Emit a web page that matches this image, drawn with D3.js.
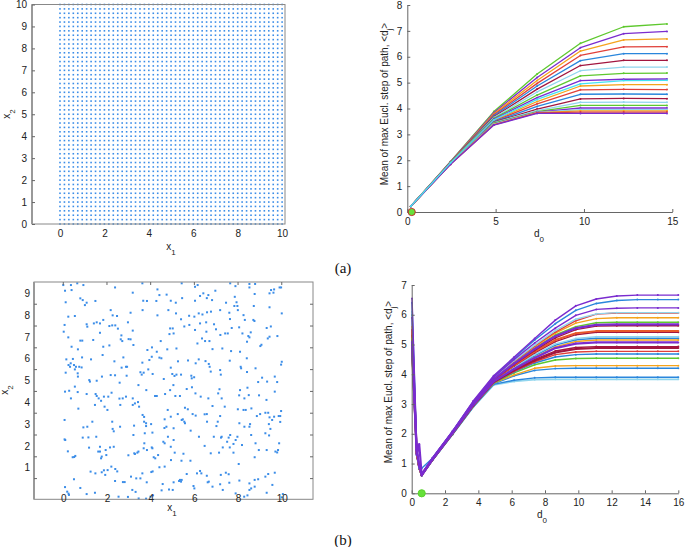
<!DOCTYPE html>
<html>
<head>
<meta charset="utf-8">
<script src="https://cdn.jsdelivr.net/npm/d3@7"></script>
<style>
body { margin: 0; background: #fff; }
</style>
</head>
<body>
<svg id="fig" width="685" height="547"></svg>
<script>
// ---------- data ----------

// (a) regular lattice of points, same coordinates on x1 and x2
let gridVals = [0,0.2,0.4,0.6,0.8,1,1.2,1.4,1.6,1.8,2,2.2,2.4,2.6,2.8,3,3.2,3.4,3.6,3.8,4,4.2,4.4,4.6,4.8,5,
  5.2,5.4,5.6,5.8,6,6.2,6.4,6.6,6.8,7,7.2,7.4,7.6,7.8,8,8.2,8.4,8.6,8.8,9,9.2,9.4,9.6,9.8,10];
let gridTicksX = [0, 2, 4, 6, 8, 10];
let gridTicksY = [0, 1, 2, 3, 4, 5, 6, 7, 8, 9, 10];

// (a) mean max step vs d0
let d0a = [0.2, 2.45, 4.9, 7.35, 9.8, 12.25, 14.7];
let seriesA = [
  [0.22, 1.95, 3.88, 5.33, 6.52, 7.16, 7.27],
  [0.22, 1.94, 3.84, 5.20, 6.35, 6.89, 6.98],
  [0.22, 1.93, 3.80, 5.08, 6.22, 6.65, 6.69],
  [0.22, 1.93, 3.76, 4.97, 6.05, 6.38, 6.39],
  [0.22, 1.92, 3.72, 4.87, 5.85, 6.12, 6.12],
  [0.22, 1.92, 3.68, 4.75, 5.66, 5.86, 5.86],
  [0.22, 1.91, 3.65, 4.64, 5.46, 5.60, 5.60],
  [0.22, 1.91, 3.62, 4.52, 5.26, 5.36, 5.37],
  [0.22, 1.90, 3.59, 4.42, 5.08, 5.13, 5.14],
  [0.22, 1.89, 3.54, 4.27, 4.87, 4.92, 4.92],
  [0.22, 1.89, 3.51, 4.18, 4.72, 4.74, 4.73],
  [0.22, 1.88, 3.49, 4.08, 4.55, 4.56, 4.55],
  [0.22, 1.88, 3.47, 3.98, 4.37, 4.39, 4.38],
  [0.22, 1.87, 3.45, 3.92, 4.24, 4.25, 4.24],
  [0.22, 1.87, 3.43, 3.88, 4.12, 4.12, 4.12],
  [0.22, 1.86, 3.41, 3.86, 4.02, 4.02, 4.02],
  [0.22, 1.86, 3.40, 3.85, 3.96, 3.96, 3.96],
  [0.22, 1.85, 3.38, 3.84, 3.91, 3.91, 3.91],
  [0.22, 1.85, 3.37, 3.83, 3.86, 3.86, 3.86],
  [0.22, 1.84, 3.36, 3.81, 3.81, 3.81, 3.81],
  [0.22, 1.90, 3.56, 4.35, 4.95, 5.08, 5.09]
];
let ticksAx = [0, 5, 10, 15];
let ticksAy = [0, 1, 2, 3, 4, 5, 6, 7, 8];
let optimumA = 0.25;

// (b) random points [x1, x2]
let randomPts = [
  [0,9.38],[0.64,9.46],[0.92,9.38],[0.35,9.38],[3.62,9.46],[5.42,9.46],[6.15,9.38],[7.64,9.46],[7.88,9.33],[8.52,9.43],
  [8.78,9.43],[0.08,9.12],[0.38,9.15],[2.37,9.27],[4.31,9.18],[6.03,9.30],[8.52,9.27],[9.44,9.00],[9.90,9.27],
  [0.11,8.59],[0.78,8.77],[1.07,8.57],[0.99,8.46],[1.47,8.65],[3.18,9.03],[3.66,8.66],[3.83,8.65],[4.26,8.65],[4.40,8.92],
  [4.73,8.94],[4.92,8.66],[5.15,8.57],[5.44,8.78],[6.03,8.66],[6.26,8.88],[6.41,9.00],[6.57,8.78],[6.64,8.92],[6.81,8.69],
  [6.96,9.12],[7.45,8.57],[7.85,8.84],[7.93,8.59],[7.83,8.42],[7.97,8.42],[8.76,8.97],[9.51,9.15],[9.65,9.18],[9.62,9.03],[9.97,9.27],
  [0.23,7.93],[0.53,7.96],[0.89,8.69],[2.17,8.23],[2.26,7.99],[2.46,7.96],[3.08,8.11],[3.63,8.23],[4.31,7.99],[4.81,8.23],
  [5.16,8.08],[5.39,7.81],[5.76,7.97],[6.00,7.93],[6.20,8.08],[6.37,8.03],[6.54,7.67],[6.58,8.13],[6.76,8.16],[7.18,8.23],
  [7.60,8.11],[7.63,7.82],[7.99,8.23],[8.25,8.00],[8.31,7.78],[8.72,8.42],[8.70,7.78],[9.44,8.36],[10.00,8.08],[8.75,7.73],
  [0.06,7.55],[0.02,7.24],[1.10,7.47],[1.07,7.58],[1.40,7.62],[1.53,7.67],[1.68,7.62],[1.83,7.78],[1.68,7.19],[2.24,7.53],
  [2.11,7.50],[2.38,7.53],[2.50,7.38],[2.96,7.67],[3.18,7.29],[4.89,7.39],[5.01,7.39],[5.05,7.16],[4.86,7.13],[5.54,7.48],
  [5.77,7.55],[6.03,7.32],[6.26,7.62],[6.55,7.24],[6.90,7.58],[6.99,7.35],[7.19,7.09],[7.41,7.16],[7.53,7.16],[7.71,7.41],
  [8.05,7.44],[8.20,7.16],[8.47,7.04],[8.58,7.21],[9.31,7.41],[9.50,7.48],[9.80,7.04],[9.44,7.01],
  [0.23,6.98],[0.38,6.55],[0.78,6.83],[0.87,6.83],[0.67,6.43],[1.37,6.86],[1.83,6.55],[2.11,6.61],[2.66,7.07],[2.63,6.89],
  [2.70,6.81],[2.99,6.90],[3.08,6.89],[3.21,6.63],[3.85,6.40],[4.06,6.52],[4.28,6.32],[4.46,6.81],[4.76,6.43],[5.18,6.47],
  [6.14,6.70],[6.35,6.93],[6.49,6.81],[6.69,6.81],[6.83,6.44],[7.28,6.47],[7.68,6.35],[8.09,6.32],[8.41,6.78],[8.52,6.98],
  [9.07,6.64],[9.02,6.58],[9.36,6.93],
  [0.14,5.97],[0.24,5.71],[0.34,5.79],[0.44,5.99],[0.49,5.71],[0.58,5.63],[0.73,5.63],[0.86,6.06],[1.27,5.97],[1.80,6.17],
  [2.34,5.88],[2.67,5.59],[2.75,6.06],[2.92,5.63],[3.62,5.82],[3.94,5.94],[4.05,6.09],[4.40,6.05],[4.49,6.02],[4.92,5.59],
  [5.25,5.88],[5.71,5.92],[6.06,5.79],[6.20,5.97],[6.51,5.89],[6.66,5.76],[6.70,5.63],[7.62,5.91],[8.12,5.63],[8.40,6.02],
  [8.80,5.56],[10.00,5.86],[9.97,5.73],
  [0.11,5.36],[0.31,5.63],[0.53,5.51],[0.66,5.33],[0.67,5.18],[0.84,5.60],[1.19,5.02],[1.22,4.95],[1.53,4.99],[1.77,5.18],
  [2.17,5.25],[2.37,5.24],[2.58,4.90],[2.87,5.63],[2.90,5.22],[3.53,5.38],[3.59,5.27],[3.68,5.36],[3.89,5.51],[4.09,5.30],
  [4.60,5.07],[4.99,5.30],[5.09,5.21],[5.18,5.27],[5.39,5.27],[5.86,5.22],[5.88,5.10],[5.99,5.15],[6.75,5.41],[7.18,5.48],
  [7.21,5.27],[8.14,5.56],[8.41,5.39],[8.92,4.93],[9.10,5.13],[9.33,4.95],[9.68,5.18],[9.79,4.93],
  [0.08,4.49],[0.27,4.53],[0.35,4.18],[0.53,4.72],[0.66,4.47],[1.07,4.38],[1.48,4.38],[1.53,4.29],[1.62,4.18],[1.86,4.26],
  [2.06,4.26],[2.21,4.44],[2.57,4.17],[2.72,4.18],[2.87,4.26],[3.18,4.18],[3.28,3.95],[3.44,4.79],[3.80,4.56],[4.20,4.29],
  [4.28,4.29],[4.66,4.38],[4.89,4.56],[5.04,4.79],[5.13,4.29],[5.34,4.29],[5.65,4.61],[5.89,4.69],[6.05,4.41],[6.29,4.26],
  [6.64,4.18],[7.09,4.41],[7.15,4.60],[7.25,4.18],[8.05,4.32],[8.09,4.56],[8.29,4.18],[8.43,4.67],[8.49,4.33],[8.96,4.32],
  [9.30,4.11],[9.68,4.49],
  [0.69,3.71],[1.45,3.88],[1.73,4.07],[1.89,3.80],[2.02,3.65],[2.61,3.88],[3.18,3.88],[3.42,4.01],[3.47,3.80],[3.63,3.42],
  [3.70,3.33],[4.64,3.22],[4.78,3.65],[4.92,3.34],[5.24,3.46],[5.57,3.75],[5.70,3.68],[5.47,3.22],[5.92,3.46],[6.06,3.39],
  [6.47,3.45],[6.57,3.46],[6.83,3.83],[7.39,3.80],[7.99,3.68],[8.25,3.65],[8.35,3.65],[8.61,3.72],[8.86,3.37],[9.01,3.46],
  [9.25,3.52],[9.38,3.52],[9.44,3.31],[9.65,3.34],[9.93,3.37],[9.97,3.60],
  [0.06,3.19],[0.92,2.85],[1.10,2.88],[1.33,3.11],[2.24,3.11],[2.26,2.78],[2.31,2.67],[2.60,2.88],[3.24,2.93],[3.70,3.11],
  [3.79,3.04],[4.02,3.00],[3.79,2.91],[4.08,2.61],[4.63,2.82],[4.72,2.88],[5.05,2.81],[5.54,3.11],[5.42,3.19],[5.57,3.04],
  [5.83,2.70],[6.58,3.11],[7.01,2.91],[7.07,3.11],[7.18,3.37],[8.06,3.04],[8.29,2.88],[8.55,3.00],[8.52,2.88],[9.41,3.00],
  [9.48,2.78],[9.56,3.19],[9.86,3.37],[9.93,3.10],
  [0.06,2.30],[0.09,2.27],[0.89,2.38],[1.15,2.39],[1.51,2.42],[1.68,1.96],[2.14,1.93],[1.94,1.81],[2.31,1.96],[3.21,2.50],
  [3.44,1.74],[3.39,1.69],[3.68,1.89],[3.73,2.58],[4.58,2.19],[4.64,2.12],[4.79,2.42],[4.92,1.96],[5.05,2.27],[6.21,2.42],
  [6.89,2.42],[7.25,2.42],[7.50,2.19],[7.57,2.38],[7.64,2.50],[7.89,2.27],[7.97,2.42],[8.18,2.04],[8.60,2.50],[8.80,2.12],
  [9.25,2.58],[9.42,2.48],[9.71,1.74],[9.88,2.12],[9.83,1.81],
  [0.21,1.75],[0.50,1.49],[0.43,1.48],[0.55,1.54],[1.18,1.92],[1.60,1.74],[1.68,1.74],[1.73,1.43],[1.76,1.51],[1.97,1.58],
  [2.98,1.57],[3.25,1.66],[3.28,1.63],[4.14,1.48],[4.21,1.43],[4.34,1.58],[4.93,1.35],[5.10,1.69],[5.41,1.32],[5.50,1.64],
  [5.82,1.32],[6.47,2.00],[6.75,1.66],[7.13,1.69],[7.22,2.38],[7.30,1.93],[7.62,1.93],[7.79,2.09],[7.79,1.69],[8.03,1.17],
  [8.76,1.48],[8.95,1.81],[9.79,1.70],[9.31,1.81],[3.83,1.81],[4.05,1.93],[4.08,1.89],[3.71,2.12],
  [1.25,0.82],[1.47,0.74],[1.76,0.79],[1.86,0.88],[1.92,0.67],[2.03,0.89],[2.20,1.05],[2.38,0.94],[2.37,0.39],[2.47,0.83],
  [2.73,0.34],[3.10,0.59],[3.34,0.51],[3.53,0.51],[3.62,0.74],[3.82,0.33],[4.03,0.80],[4.09,0.83],[4.40,1.02],[4.64,1.05],
  [5.05,0.33],[5.30,0.39],[5.34,0.44],[5.39,0.36],[5.65,0.71],[6.12,0.74],[6.26,0.85],[6.32,0.74],[6.57,0.63],[6.66,0.36],
  [7.18,0.24],[7.21,0.67],[7.44,0.77],[7.57,0.70],[7.60,0.31],[8.06,0.41],[8.52,0.28],[8.76,0.44],[8.92,0.47],[9.25,0.59],
  [9.38,0.71],[9.68,0.77],
  [0.08,0.11],[0.18,-0.10],[0.26,-0.25],[0.24,-0.19],[0.49,0.47],[0.78,0.07],[1.07,-0.21],[1.45,-0.15],[2.53,-0.33],[2.81,0.34],
  [2.96,-0.34],[3.16,-0.02],[3.31,-0.11],[3.45,-0.41],[3.79,-0.42],[3.99,-0.33],[4.11,-0.27],[4.50,-0.04],[4.55,0.25],[4.84,0.00],
  [5.01,-0.02],[5.42,0.44],[5.96,0.16],[6.00,0.05],[6.61,0.33],[6.83,0.13],[7.30,-0.02],[7.89,-0.18],[8.28,-0.33],[8.43,-0.27],
  [8.52,-0.02],[8.60,0.05],[8.76,0.13],[9.31,-0.15],[9.57,0.21],[10.00,-0.36],[10.05,-0.21]
];
let randTicksX = [0, 2, 4, 6, 8, 10];
let randLabelsY = [1, 2, 3, 4, 5, 6, 7, 8, 9];
let randTickMarksY = [0.5, 1.5, 2.5, 3.5, 4.5, 5.5, 6.5, 7.5, 8.5];

// (b) mean max step vs d0
let d0b = [0.02, 0.3, 0.45, 0.6, 1.23, 2.46, 3.69, 4.92, 6.15, 7.38, 8.62, 9.85, 11.08, 12.31, 13.54, 14.77, 16];
let seriesB = [
  [5.50, 1.28, 0.83, 0.60, 1.09, 1.98, 2.89, 3.64, 3.76, 3.82, 3.83, 3.83, 3.83, 3.83, 3.83, 3.83, 3.83],
  [4.90, 1.28, 0.83, 0.60, 1.10, 1.98, 2.90, 3.66, 3.80, 3.88, 3.90, 3.90, 3.90, 3.90, 3.90, 3.90, 3.90],
  [4.60, 1.30, 0.83, 0.60, 1.10, 1.99, 2.91, 3.68, 3.95, 4.13, 4.19, 4.20, 4.20, 4.20, 4.20, 4.20, 4.20],
  [4.50, 1.30, 0.84, 0.60, 1.10, 2.00, 2.92, 3.70, 3.98, 4.20, 4.28, 4.29, 4.29, 4.29, 4.29, 4.29, 4.29],
  [4.70, 1.32, 0.84, 0.60, 1.11, 2.00, 2.93, 3.71, 4.05, 4.32, 4.48, 4.53, 4.54, 4.54, 4.54, 4.54, 4.54],
  [4.90, 1.33, 0.84, 0.60, 1.11, 2.01, 2.94, 3.72, 4.08, 4.38, 4.58, 4.66, 4.68, 4.68, 4.68, 4.68, 4.68],
  [5.30, 1.34, 0.85, 0.61, 1.11, 2.01, 2.94, 3.73, 4.10, 4.42, 4.66, 4.75, 4.77, 4.77, 4.77, 4.77, 4.77],
  [5.00, 1.35, 0.85, 0.61, 1.12, 2.02, 2.95, 3.74, 4.13, 4.46, 4.73, 4.85, 4.88, 4.88, 4.88, 4.88, 4.88],
  [5.20, 1.35, 0.85, 0.61, 1.12, 2.02, 2.96, 3.75, 4.15, 4.50, 4.78, 4.90, 4.93, 4.93, 4.93, 4.93, 4.93],
  [4.80, 1.36, 0.86, 0.61, 1.13, 2.03, 2.97, 3.77, 4.20, 4.58, 4.92, 5.10, 5.15, 5.15, 5.15, 5.15, 5.15],
  [6.00, 1.38, 0.86, 0.62, 1.13, 2.04, 2.98, 3.78, 4.23, 4.63, 4.98, 5.16, 5.21, 5.21, 5.21, 5.21, 5.21],
  [5.70, 1.38, 0.86, 0.62, 1.13, 2.04, 2.99, 3.79, 4.25, 4.66, 5.02, 5.20, 5.26, 5.26, 5.26, 5.26, 5.26],
  [5.40, 1.38, 0.87, 0.62, 1.14, 2.05, 3.00, 3.80, 4.28, 4.72, 5.10, 5.33, 5.41, 5.41, 5.41, 5.41, 5.41],
  [5.45, 1.40, 0.87, 0.62, 1.14, 2.05, 3.00, 3.81, 4.30, 4.76, 5.15, 5.38, 5.45, 5.45, 5.45, 5.45, 5.45],
  [5.30, 1.40, 0.88, 0.62, 1.14, 2.06, 3.01, 3.82, 4.33, 4.80, 5.22, 5.50, 5.62, 5.63, 5.63, 5.63, 5.63],
  [5.20, 1.40, 0.88, 0.63, 1.15, 2.07, 3.03, 3.85, 4.40, 4.88, 5.32, 5.60, 5.73, 5.75, 5.75, 5.75, 5.75],
  [5.60, 1.40, 0.88, 0.63, 1.15, 2.07, 3.04, 3.86, 4.42, 4.92, 5.38, 5.72, 5.87, 5.90, 5.90, 5.90, 5.90],
  [5.50, 1.40, 0.88, 0.64, 1.15, 2.07, 3.04, 3.87, 4.44, 4.95, 5.42, 5.80, 6.02, 6.06, 6.06, 6.06, 6.06],
  [6.10, 1.50, 0.90, 0.64, 1.16, 2.08, 3.05, 3.88, 4.46, 4.98, 5.47, 5.85, 6.03, 6.07, 6.07, 6.07, 6.07],
  [6.40, 1.50, 0.85, 0.84, 1.17, 2.09, 3.08, 3.93, 4.55, 5.15, 5.70, 6.15, 6.38, 6.48, 6.51, 6.51, 6.51],
  [5.10, 1.30, 1.65, 0.60, 1.12, 2.03, 2.97, 3.76, 4.18, 4.55, 4.88, 5.03, 5.07, 5.07, 5.07, 5.07, 5.07],
  [5.00, 1.45, 0.90, 0.63, 1.15, 2.06, 3.02, 3.84, 4.36, 4.85, 5.28, 5.55, 5.66, 5.68, 5.68, 5.68, 5.68],
  [5.90, 1.45, 0.92, 0.65, 1.16, 2.08, 3.06, 3.90, 4.50, 5.05, 5.55, 5.98, 6.18, 6.22, 6.23, 6.23, 6.23],
  [6.55, 1.62, 0.95, 0.66, 1.18, 2.10, 3.10, 3.95, 4.58, 5.20, 5.82, 6.30, 6.53, 6.63, 6.66, 6.66, 6.66]
];
let ticksBx = [0, 2, 4, 6, 8, 10, 12, 14, 16];
let ticksBy = [0, 1, 2, 3, 4, 5, 6, 7];
let optimumB = 0.6;

// ---------- look ----------
const green = "#5ec82e", purple = "#7a2ccf", orange = "#f5a31c", red = "#e0403a",
      blue = "#2a86dc", maroon = "#a2163f", lightblue = "#90d5ee", cyan = "#45e3f2";
const colorsA = [green, purple, orange, red, blue, maroon, lightblue, green, purple, orange, red,
  blue, maroon, lightblue, green, purple, lightblue, orange, red, purple, cyan];
const colorsB = [lightblue, blue, blue, orange, green, blue, red, maroon, maroon, orange, blue,
  lightblue, maroon, "#e8582a", maroon, green, orange, red, lightblue, blue, purple, purple, purple, purple];
const widthsB = [1.6, 1.4, 1.4, 1.4, 1.4, 1.4, 1.4, 2, 1.4, 1.4, 1.4, 1.4, 1.4, 2, 1.4, 1.4, 1.4, 1.4, 1.4, 1.4, 2.2, 2.2, 1.4, 1.4];
const dotBlue = "#3b8de8";
const axisColor = "#666";
const sans = "'Liberation Sans', Arial, sans-serif";
const intFmt = d3.format("d");

let svg = d3.select("#fig");

const styleAxis = (g, size) => {
  g.attr("font-family", sans).attr("font-size", size);
  g.selectAll(".tick line").attr("stroke", axisColor);
  g.selectAll(".tick text").attr("fill", "#222");
  g.select(".domain").attr("stroke", axisColor);
};

// text with a subscript, optionally rotated
const subLabel = (x, y, main, sub, rotate, size) => {
  let t = svg.append("text")
    .attr("x", x).attr("y", y)
    .attr("text-anchor", "middle")
    .attr("font-family", sans)
    .attr("font-size", size)
    .attr("fill", "#222");
  if (rotate) t.attr("transform", `rotate(-90,${x},${y})`);
  t.append("tspan").text(main);
  t.append("tspan").attr("dy", size * 0.45).attr("font-size", size * 0.8).text(sub);
  return t;
};

const drawGrid = () => {
  let x = d3.scaleLinear().domain([-1.26, 10.13]).range([32, 285]);
  let y = d3.scaleLinear().domain([0, 10]).range([224, 4.5]);
  let g = svg.append("g");

  let cells = [];
  gridVals.forEach(a => gridVals.forEach(b => cells.push([a, b])));
  g.selectAll("rect.pt").data(cells).enter().append("rect")
    .attr("class", "pt")
    .attr("x", d => x(d[0]) - 0.8)
    .attr("y", d => y(d[1]) - 0.8)
    .attr("width", 1.6).attr("height", 1.6)
    .attr("fill", dotBlue);

  g.append("rect")
    .attr("x", x.range()[0]).attr("y", y.range()[1])
    .attr("width", x.range()[1] - x.range()[0])
    .attr("height", y.range()[0] - y.range()[1])
    .attr("fill", "none").attr("stroke", "#888");
  g.append("line")
    .attr("x1", x.range()[0]).attr("x2", x.range()[0])
    .attr("y1", y.range()[0]).attr("y2", y.range()[1])
    .attr("stroke", "#999").attr("stroke-width", 2);

  let ya = g.append("g").attr("transform", `translate(${x.range()[0]},0)`)
    .call(d3.axisLeft(y).tickValues(gridTicksY).tickFormat(intFmt).tickSize(-3).tickPadding(5));
  ya.select(".domain").remove();
  styleAxis(ya, 10);

  let xa = g.append("g").attr("transform", `translate(0,${y(0)})`)
    .call(d3.axisBottom(x).tickValues(gridTicksX).tickFormat(intFmt).tickSize(0).tickPadding(6));
  xa.select(".domain").remove();
  styleAxis(xa, 10);

  subLabel(171, 250, "x", "1", false, 10);
  subLabel(10, 114, "x", "2", true, 10);
};

const drawCurves = (xs, series, colors, widths, xScale, yScale, tx, ty, optimum, outline) => {
  let g = svg.append("g");
  let line = d3.line().x((d, i) => xScale(xs[i])).y(d => yScale(d));

  series.forEach((s, k) => {
    g.append("path")
      .attr("d", line(s))
      .attr("fill", "none")
      .attr("stroke", colors[k])
      .attr("stroke-width", widths ? widths[k] : 1.3)
      .attr("stroke-linejoin", "round");
    g.selectAll(null).data(s).enter().append("circle")
      .attr("cx", (d, i) => xScale(xs[i]))
      .attr("cy", d => yScale(d))
      .attr("r", 1)
      .attr("fill", colors[k]);
  });

  let xa = g.append("g").attr("transform", `translate(0,${yScale(0)})`)
    .call(d3.axisBottom(xScale).tickValues(tx).tickFormat(intFmt).tickSize(-3).tickSizeOuter(0).tickPadding(ty.pad));
  styleAxis(xa, 10);
  let ya = g.append("g").attr("transform", `translate(${xScale(0)},0)`)
    .call(d3.axisLeft(yScale).tickValues(ty.values).tickFormat(intFmt).tickSize(-3).tickSizeOuter(0).tickPadding(5));
  styleAxis(ya, 10);

  g.append("circle")
    .attr("cx", xScale(optimum)).attr("cy", yScale(0))
    .attr("r", 3.6)
    .attr("fill", "#66e03a")
    .attr("stroke", outline)
    .attr("stroke-width", 1);
};

const yLabel = (x, y) => {
  let t = svg.append("text")
    .attr("transform", `translate(${x},${y}) rotate(-90)`)
    .attr("text-anchor", "middle")
    .attr("font-family", sans).attr("font-size", 10).attr("fill", "#222");
  t.append("tspan").text("Mean of max Eucl. step of path, <d");
  t.append("tspan").attr("dy", 4).attr("font-size", 8).text("j");
  t.append("tspan").attr("dy", -4).text(">");
};

const drawCurvesA = () => {
  let x = d3.scaleLinear().domain([0, 15]).range([407.3, 672.3]);
  let y = d3.scaleLinear().domain([0, 8]).range([212, 5]);
  drawCurves(d0a, seriesA, colorsA, null, x, y, ticksAx, { values: ticksAy, pad: 6 }, optimumA, "#c0302a");
  yLabel(388, 104);
  subLabel(539, 237, "d", "0", false, 10);
};

const drawRandom = () => {
  let x = d3.scaleLinear().domain([-1.34, 11.43]).range([34, 313]);
  let y = d3.scaleLinear().domain([-0.45, 9.52]).range([499.3, 282]);
  let g = svg.append("g");

  g.selectAll("rect.pt").data(randomPts).enter().append("rect")
    .attr("class", "pt")
    .attr("x", d => x(d[0]) - 1)
    .attr("y", d => y(d[1]) - 1)
    .attr("width", 2).attr("height", 2)
    .attr("fill", dotBlue);

  g.append("rect")
    .attr("x", 34).attr("y", 282)
    .attr("width", 313 - 34).attr("height", 499.3 - 282)
    .attr("fill", "none").attr("stroke", "#888");
  g.append("line").attr("x1", 34).attr("x2", 34).attr("y1", 282).attr("y2", 499.3)
    .attr("stroke", "#999").attr("stroke-width", 2);

  // tick marks sit half a unit off the labels in the original
  g.selectAll("line.tl").data(randTickMarksY).enter().append("line")
    .attr("x1", 34).attr("x2", 37).attr("y1", d => y(d)).attr("y2", d => y(d))
    .attr("stroke", axisColor);
  g.selectAll("line.tr").data(randTickMarksY).enter().append("line")
    .attr("x1", 313).attr("x2", 310).attr("y1", d => y(d)).attr("y2", d => y(d))
    .attr("stroke", axisColor);
  g.selectAll("line.tt").data(randTicksX).enter().append("line")
    .attr("x1", d => x(d)).attr("x2", d => x(d)).attr("y1", 282).attr("y2", 285)
    .attr("stroke", axisColor);

  let ya = g.append("g").attr("transform", "translate(34,0)")
    .call(d3.axisLeft(y).tickValues(randLabelsY).tickFormat(intFmt).tickSize(0).tickPadding(4));
  ya.select(".domain").remove();
  styleAxis(ya, 10);
  let xa = g.append("g").attr("transform", `translate(0,${y(0)})`)
    .call(d3.axisBottom(x).tickValues(randTicksX).tickFormat(intFmt).tickSize(0).tickPadding(5.5));
  xa.select(".domain").remove();
  styleAxis(xa, 10);

  subLabel(172, 511, "x", "1", false, 10);
  subLabel(8, 390, "x", "2", true, 10);
};

const drawCurvesB = () => {
  let x = d3.scaleLinear().domain([0, 16]).range([411.7, 678.3]);
  let y = d3.scaleLinear().domain([0, 7]).range([493.3, 285]);
  drawCurves(d0b, seriesB, colorsB, widthsB, x, y, ticksBx, { values: ticksBy, pad: 6 }, optimumB, "#5bd22e");
  yLabel(392, 382);
  subLabel(542, 518, "d", "0", false, 10);
};

const drawCaptions = () => {
  svg.selectAll("text.cap").data(["(a)", "(b)"]).enter().append("text")
    .attr("class", "cap")
    .attr("x", 343)
    .attr("y", (d, i) => [273, 545][i])
    .attr("text-anchor", "middle")
    .attr("font-family", "'Liberation Serif', 'Times New Roman', serif")
    .attr("font-size", 15)
    .attr("fill", "#111")
    .text(d => d);
};

window.onload = () => {
  drawGrid();
  drawCurvesA();
  drawRandom();
  drawCurvesB();
  drawCaptions();
};
</script>
</body>
</html>
